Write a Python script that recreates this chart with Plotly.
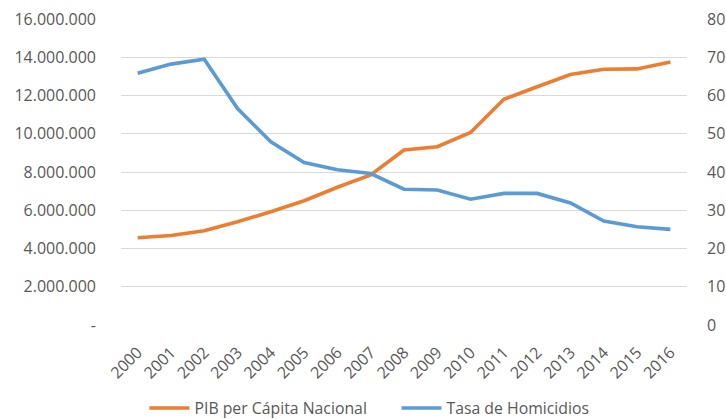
import plotly.graph_objects as go

years = [str(y) for y in range(2000, 2017)]
pib = [4560000, 4680000, 4930000, 5400000, 5920000, 6500000, 7200000, 7850000,
       9150000, 9320000, 10070000, 11800000, 12460000, 13100000, 13370000, 13390000, 13750000]
homicidios = [65.8, 68.2, 69.5, 56.6, 47.9, 42.5, 40.6, 39.6,
              35.5, 35.3, 32.9, 34.4, 34.4, 31.9, 27.2, 25.7, 25.0]

left_ticks = [0, 2000000, 4000000, 6000000, 8000000, 10000000, 12000000, 14000000, 16000000]
left_labels = ["-", "2.000.000", "4.000.000", "6.000.000", "8.000.000", "10.000.000",
               "12.000.000", "14.000.000", "16.000.000"]
right_ticks = [0, 10, 20, 30, 40, 50, 60, 70, 80]

font = dict(family="Open Sans", size=16, color="#595959")
legend_font = dict(family="Open Sans", size=15.8, color="#595959")

fig = go.Figure()
fig.add_trace(go.Scatter(x=years, y=pib, name="PIB per Cápita Nacional", mode="lines",
                         line=dict(color="#ED7D31", width=3.6), yaxis="y"))
fig.add_trace(go.Scatter(x=years, y=homicidios, name="Tasa de Homicidios", mode="lines",
                         line=dict(color="#5B9BD5", width=3.6), yaxis="y2"))

fig.update_layout(
    width=726, height=419,
    margin=dict(l=121, r=39, t=19, b=94, autoexpand=False),
    paper_bgcolor="white", plot_bgcolor="white",
    font=font,
    showlegend=True,
    legend=dict(orientation="h", x=0.4867, xanchor="center", y=-0.272, yanchor="middle",
                font=legend_font, itemwidth=40, tracegroupgap=0, entrywidth=197),
    xaxis=dict(type="category", range=[-0.5, 16.5], tickangle=-45, showgrid=False,
               showline=False, ticks="", tickfont=font, automargin=False,
               ticklabelstandoff=14),
    yaxis=dict(range=[0, 16000000], tickvals=left_ticks, ticktext=left_labels,
               showgrid=True, gridcolor="#D9D9D9", gridwidth=1.3, zeroline=False,
               showline=False, ticks="", tickfont=font, ticklabelstandoff=24, automargin=False),
    yaxis2=dict(range=[0, 80], tickvals=right_ticks, overlaying="y", side="right",
                showgrid=False, zeroline=False, showline=False, ticks="", tickfont=font,
                ticklabelstandoff=19, automargin=False),
)

fig.write_html("out.html", config={"displayModeBar": False},
               post_script="document.body.style.margin='0';document.body.style.overflow='hidden';")
